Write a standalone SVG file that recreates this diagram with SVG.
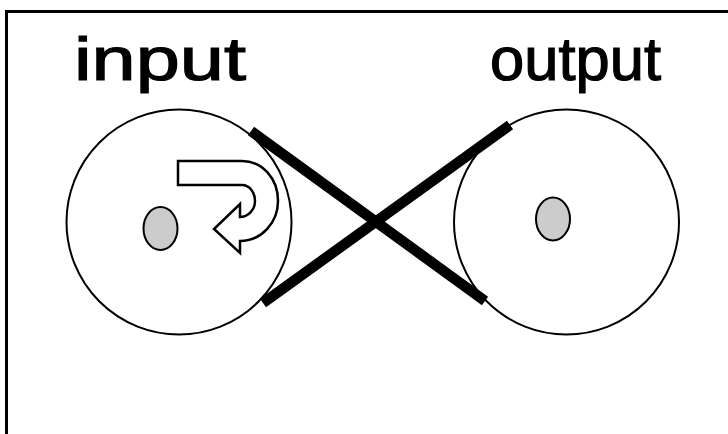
<svg xmlns="http://www.w3.org/2000/svg" width="728" height="434" viewBox="0 0 728 434">
<style>
.wheel{fill:#fff;stroke:#000;stroke-width:2}
.hub{fill:#ccc;stroke:#000;stroke-width:2}
.belt{stroke:#000;stroke-width:10.500;fill:none}
.label{font-family:"Liberation Sans",Arial,sans-serif;font-size:61px;fill:#000;stroke:#000;stroke-width:1.200}
</style>
<rect width="728" height="434" fill="#fff"/>
<rect id="frame" x="6.500" y="11.500" width="730" height="430" fill="none" stroke="#000" stroke-width="3"/>
<g id="input-wheel">
<circle class="wheel" cx="179" cy="222" r="112.500"/>
<ellipse class="hub" cx="160.500" cy="228.500" rx="17" ry="21.500"/>
<path id="rotation-arrow" fill="#fff" stroke="#000" stroke-width="2.500" d="M178 161V185H242C250 185 255 193 255 201C255 210 248 217 240 217V204L214 229L240 253V241C262 241 278 222 278 201C278 178 262 161 242 161Z"/>
</g>
<g id="output-wheel">
<circle class="wheel" cx="566.500" cy="222" r="112.500"/>
<ellipse class="hub" cx="553" cy="219" rx="17" ry="21.500"/>
</g>
<g id="connectors">
<line class="belt" x1="251" y1="131" x2="485" y2="301"/>
<line class="belt" x1="263" y1="303" x2="510" y2="125"/>
</g>
<text id="input-label" class="label" x="74" y="80" textLength="172" lengthAdjust="spacingAndGlyphs">input</text>
<text id="output-label" class="label" x="490" y="80" textLength="171" lengthAdjust="spacingAndGlyphs">output</text>
</svg>
